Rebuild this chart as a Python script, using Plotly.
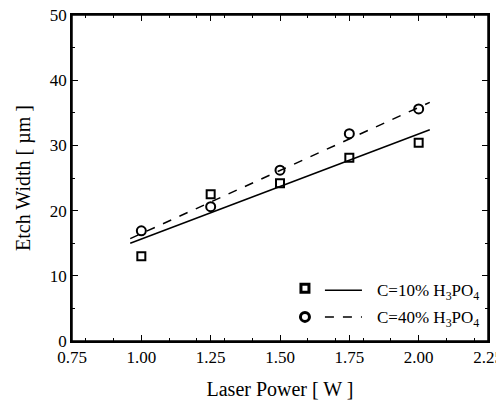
import plotly.graph_objects as go

laser_power = [1.00, 1.25, 1.50, 1.75, 2.00]
width_10 = [13.0, 22.5, 24.2, 28.1, 30.4]
width_40 = [16.9, 20.6, 26.2, 31.8, 35.6]
fit_x = [0.96, 2.04]
fit_10 = [15.0, 32.4]
fit_40 = [15.7, 36.6]
labels = ["C=10% H<sub>3</sub>PO<sub>4</sub>", "C=40% H<sub>3</sub>PO<sub>4</sub>"]
x_ticks = [0.75, 1.00, 1.25, 1.50, 1.75, 2.00, 2.25]
y_ticks = [0, 10, 20, 30, 40, 50]

FONT = "Liberation Serif"
fig = go.Figure()
fig.add_trace(go.Scatter(x=fit_x, y=fit_10, mode="lines", line=dict(color="black", width=1.5), showlegend=False))
fig.add_trace(go.Scatter(x=fit_x, y=fit_40, mode="lines", line=dict(color="black", width=1.5, dash="dash"), showlegend=False))
fig.add_trace(go.Scatter(x=laser_power, y=width_10, mode="markers",
                         marker=dict(symbol="square-open", size=8, color="black", line=dict(width=2)), showlegend=False))
fig.add_trace(go.Scatter(x=laser_power, y=width_40, mode="markers",
                         marker=dict(symbol="circle-open", size=9, color="black", line=dict(width=2)), showlegend=False))

# manual legend
rows = [0.156, 0.074]
shapes = [dict(type="rect", xref="paper", yref="paper", x0=0, x1=1, y0=0, y1=1,
               line=dict(color="black", width=1.5), layer="above")]
annotations = []
for i, (yy, lab) in enumerate(zip(rows, labels)):
    dash = "solid" if i == 0 else "dash"
    shapes.append(dict(type="line", xref="paper", yref="paper", x0=0.608, x1=0.697, y0=yy, y1=yy,
                       line=dict(color="black", width=1.5, dash=dash)))
    annotations.append(dict(xref="paper", yref="paper", x=0.728, y=yy - 0.005, text=lab, showarrow=False,
                            xanchor="left", yanchor="middle", font=dict(family=FONT, size=17, color="black")))
fig.add_trace(go.Scatter(x=[1.59], y=[50 * 0.156 + 0.3], mode="markers", showlegend=False,
                         marker=dict(symbol="square-open", size=8, color="black", line=dict(width=3))))
fig.add_trace(go.Scatter(x=[1.59], y=[50 * 0.074], mode="markers", showlegend=False,
                         marker=dict(symbol="circle-open", size=9, color="black", line=dict(width=3))))

axis_common = dict(showline=True, linecolor="black", linewidth=1.5, mirror="ticks", ticks="inside",
                   ticklen=6, tickwidth=1, tickcolor="black", showgrid=False, zeroline=False,
                   automargin=False, ticklabeloverflow="allow",
                   tickfont=dict(family=FONT, size=17, color="black"),
                   minor=dict(ticks="inside", ticklen=3, tickcolor="black"))
fig.update_xaxes(range=[0.75, 2.25], tickvals=x_ticks, tickformat=".2f",
                 title=dict(text="Laser Power [ W ]", font=dict(family=FONT, size=20, color="black"), standoff=16),
                 **axis_common)
fig.update_yaxes(range=[0, 50], tickvals=y_ticks,
                 title=dict(text="Etch Width [ µm ]", font=dict(family=FONT, size=20, color="black"), standoff=14),
                 **axis_common)
# page body adds an 8px offset; size the figure so the plot area lands where the reference has it
fig.update_layout(width=496, height=397, margin=dict(l=64, r=16, t=7, b=64),
                  plot_bgcolor="white", paper_bgcolor="white", shapes=shapes, annotations=annotations,
                  font=dict(family=FONT, color="black"))
fig.write_html("out.html")
